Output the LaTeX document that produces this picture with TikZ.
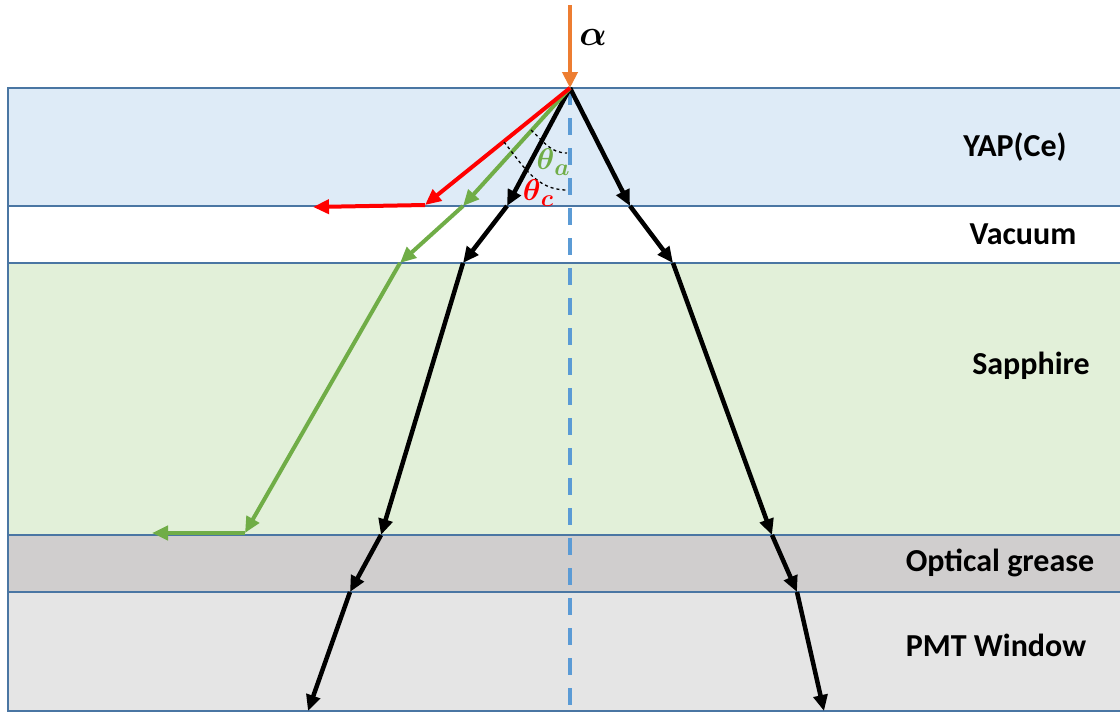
\RequirePackage{fix-cm}
\documentclass[tikz,border=0pt]{standalone}
\usepackage{fontspec}
\setmainfont{Carlito}
\usepackage{amsmath, amssymb, bm}
\usetikzlibrary{arrows.meta}
\definecolor{couche_bleu}{HTML}{DEEBF7}
\definecolor{couche_vert}{HTML}{E2F0D9}
\definecolor{couche_gris}{HTML}{D0CECE}
\definecolor{couche_pmt}{HTML}{E5E5E5}
\definecolor{bord}{HTML}{4A76A3}
\definecolor{axe_bleu}{HTML}{5B9BD5}
\definecolor{palette_orange}{HTML}{ED7D31}
\definecolor{palette_vertr}{HTML}{70AD47}
\definecolor{palette_rouge}{HTML}{FF0000}
\newcommand{\angtheta}[1]{$\bm{\theta}$\raisebox{-6pt}{\fontsize{24}{26}\selectfont$\bm{#1}$}}
\tikzset{
  couche/.style={draw=bord, line width=1.5pt},
  rayon/.style={line width=4.5pt, -{Triangle[length=16pt,width=14pt]}},
  rayonc/.style={line width=4pt, -{Triangle[length=16pt,width=14pt]}},
  nom/.style={font=\fontsize{32}{36}\selectfont\bfseries, text=black},
  angle/.style={font=\fontsize{30}{32}\selectfont, inner sep=0pt}
}

\begin{document}
\begin{tikzpicture}[x=1pt, y=1pt]
    \useasboundingbox (0,0) rectangle (1120,-713);

    % couches
    \draw[couche, fill=couche_bleu] (8,-88) rectangle (1122,-206);
    \draw[couche, fill=white] (8,-206) rectangle (1122,-263);
    \draw[couche, fill=couche_vert] (8,-263) rectangle (1122,-535);
    \draw[couche, fill=couche_gris] (8,-535) rectangle (1122,-592);
    \draw[couche, fill=couche_pmt] (8,-592) rectangle (1122,-711);

    \node[nom] (yap) at (1015,-147) {YAP(Ce)};
    \node[nom] (vac) at (1023,-234) {Vacuum};
    \node[nom] (sap) at (1031,-366) {Sapphire};
    \node[nom] (gre) at (1000,-563) {Optical grease};
    \node[nom] (pmt) at (996,-645) {PMT Window};

    % points sur les interfaces
    \coordinate (O) at (570,-88);
    \coordinate (src) at (570,-5);
    \coordinate (bas) at (570,-713);
    \coordinate (L1) at (507,-206);
    \coordinate (L2) at (463,-263);
    \coordinate (L3) at (381,-535);
    \coordinate (L4) at (350,-592);
    \coordinate (L5) at (308,-711);
    \coordinate (R1) at (630,-206);
    \coordinate (R2) at (673,-263);
    \coordinate (R3) at (772,-535);
    \coordinate (R4) at (797,-592);
    \coordinate (R5) at (824,-711);
    \coordinate (G1) at (463,-206);
    \coordinate (G2) at (400,-263);
    \coordinate (G3) at (245,-533);
    \coordinate (G4) at (152,-533);
    \coordinate (T1) at (425,-205);
    \coordinate (T2) at (313,-207);

    \draw[axe_bleu, line width=4pt, dash pattern=on 17pt off 13pt] (O) -- (bas);

    \draw[rayon] (O) -- (L1);
    \draw[rayon] (L1) -- (L2);
    \draw[rayon] (L2) -- (L3);
    \draw[rayon] (L3) -- (L4);
    \draw[rayon] (L4) -- (L5);

    \draw[rayon] (O) -- (R1);
    \draw[rayon] (R1) -- (R2);
    \draw[rayon] (R2) -- (R3);
    \draw[rayon] (R3) -- (R4);
    \draw[rayon] (R4) -- (R5);

    \draw[rayonc, palette_vertr] (O) -- (G1);
    \draw[rayonc, palette_vertr] (G1) -- (G2);
    \draw[rayonc, palette_vertr] (G2) -- (G3);
    \draw[rayonc, palette_vertr] (G3) -- (G4);

    \draw[rayonc, palette_rouge] (O) -- (T1);
    \draw[rayonc, palette_rouge] (T1) -- (T2);

    % angles
    \draw[dashed, line width=1.3pt] (531,-130) to[out=-42,in=180] (567,-153);
    \draw[dashed, line width=1.3pt] (504,-142) to[out=-51,in=180] (567,-190);
    \node[angle, text=palette_vertr] (ta) at (553,-162) {\angtheta{a}};
    \node[angle, text=palette_rouge] (tc) at (538,-193) {\angtheta{c}};

    \draw[palette_orange, line width=4.5pt, -{Triangle[length=16pt,width=15pt]}] (src) -- (O);
    \node[font=\fontsize{36}{40}\selectfont] (alpha) at (593,-37) {$\bm{\alpha}$};
\end{tikzpicture}
\end{document}
